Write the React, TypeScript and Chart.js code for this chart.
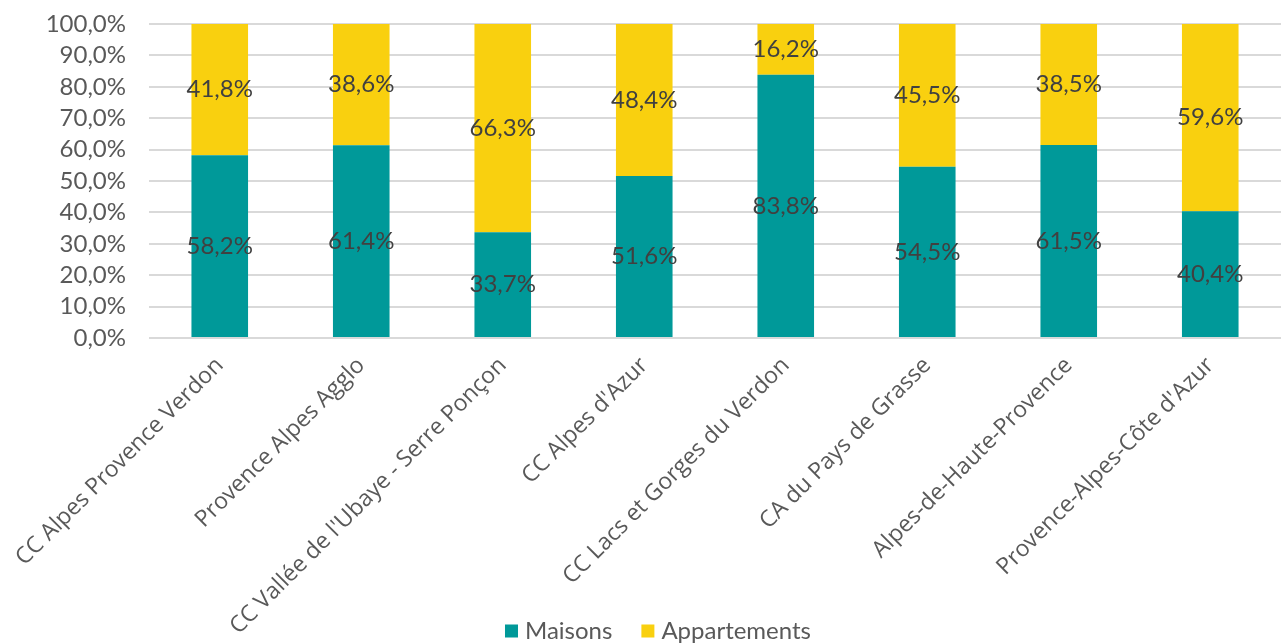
import React, { useEffect, useRef } from "react";
import { Chart, registerables } from "chart.js";

Chart.register(...registerables);

const categories = [
  "CC Alpes Provence Verdon",
  "Provence Alpes Agglo",
  "CC Vallée de l'Ubaye - Serre Ponçon",
  "CC Alpes d'Azur",
  "CC Lacs et Gorges du Verdon",
  "CA du Pays de Grasse",
  "Alpes-de-Haute-Provence",
  "Provence-Alpes-Côte d'Azur",
];
const maisons = [58.2, 61.4, 33.7, 51.6, 83.8, 54.5, 61.5, 40.4];
const appartements = [41.8, 38.6, 66.3, 48.4, 16.2, 45.5, 38.5, 59.6];
const seriesNames = ["Maisons", "Appartements"];
const seriesColors = ["#009999", "#F9D00F"];

const fmt = (v: number) => v.toFixed(1).replace(".", ",") + "%";

const dataLabels = {
  id: "dataLabels",
  afterDatasetsDraw(chart: any) {
    const ctx = chart.ctx;
    ctx.save();
    ctx.font = "24px Lato";
    ctx.fillStyle = "#404040";
    ctx.textAlign = "center";
    ctx.textBaseline = "middle";
    chart.data.datasets.forEach((ds: any, i: number) => {
      const meta = chart.getDatasetMeta(i);
      meta.data.forEach((el: any, j: number) => {
        const y = (el.y + el.base) / 2;
        ctx.fillText(fmt(ds.data[j]), el.x, y);
      });
    });
    ctx.restore();
  },
};

const bottomLegend = {
  id: "bottomLegend",
  afterDraw(chart: any) {
    const ctx = chart.ctx;
    ctx.save();
    ctx.font = "24px Lato";
    ctx.textBaseline = "middle";
    ctx.textAlign = "left";
    const box = 13;
    const gapText = 7;
    const gapItem = 29;
    const widths = chart.data.datasets.map((d: any) => ctx.measureText(d.label).width);
    const total = widths.reduce((a: number, w: number) => a + box + gapText + w, 0) + gapItem * (widths.length - 1);
    let x = 658 - total / 2;
    const y = 631;
    chart.data.datasets.forEach((d: any, i: number) => {
      ctx.fillStyle = d.backgroundColor;
      ctx.fillRect(x, y - box / 2, box, box);
      x += box + gapText;
      ctx.fillStyle = "#595959";
      ctx.fillText(d.label, x, y);
      x += widths[i] + gapItem;
    });
    ctx.restore();
  },
};

export default function App() {
  const ref = useRef<HTMLCanvasElement>(null);
  useEffect(() => {
    const chart = new Chart(ref.current!, {
      type: "bar",
      data: {
        labels: categories,
        datasets: [
          { label: seriesNames[0], data: maisons, backgroundColor: seriesColors[0], barPercentage: 0.4, categoryPercentage: 1 },
          { label: seriesNames[1], data: appartements, backgroundColor: seriesColors[1], barPercentage: 0.4, categoryPercentage: 1 },
        ],
      },
      options: {
        animation: false,
        responsive: false,
        layout: { padding: { top: 24, right: 3, left: 0, bottom: 0 } },
        plugins: {
          tooltip: { enabled: false },
          legend: { display: false },
        },
        scales: {
          x: {
            stacked: true,
            grid: {
              display: true,
              drawOnChartArea: false,
              drawTicks: true,
              tickLength: 4,
              color: "rgba(0,0,0,0)",
              tickColor: "rgba(0,0,0,0)",
            },
            border: { display: false },
            ticks: {
              minRotation: 45,
              maxRotation: 45,
              autoSkip: false,
              font: { family: "Open Sans", size: 23 },
              color: "#595959",
              padding: 10,
            },
            afterFit(scale: any) {
              scale.height = 306;
            },
          },
          y: {
            stacked: true,
            min: 0,
            max: 100,
            grid: {
              color: "#D9D9D9",
              lineWidth: 2,
              drawTicks: true,
              tickLength: 23,
              tickColor: "rgba(0,0,0,0)",
            },
            border: { display: false },
            ticks: {
              stepSize: 10,
              autoSkip: false,
              font: { family: "Lato", size: 24 },
              color: "#595959",
              padding: 0,
              callback: (v: any) => fmt(Number(v)),
            },
            afterFit(scale: any) {
              scale.width = 149;
            },
          },
        },
      },
      plugins: [dataLabels, bottomLegend],
    });
    return () => chart.destroy();
  }, []);
  return (
    <div style={{ position: "fixed", left: 0, top: 0, width: 1284, height: 644, background: "#fff" }}>
      <canvas ref={ref} width={1284} height={644} />
    </div>
  );
}
